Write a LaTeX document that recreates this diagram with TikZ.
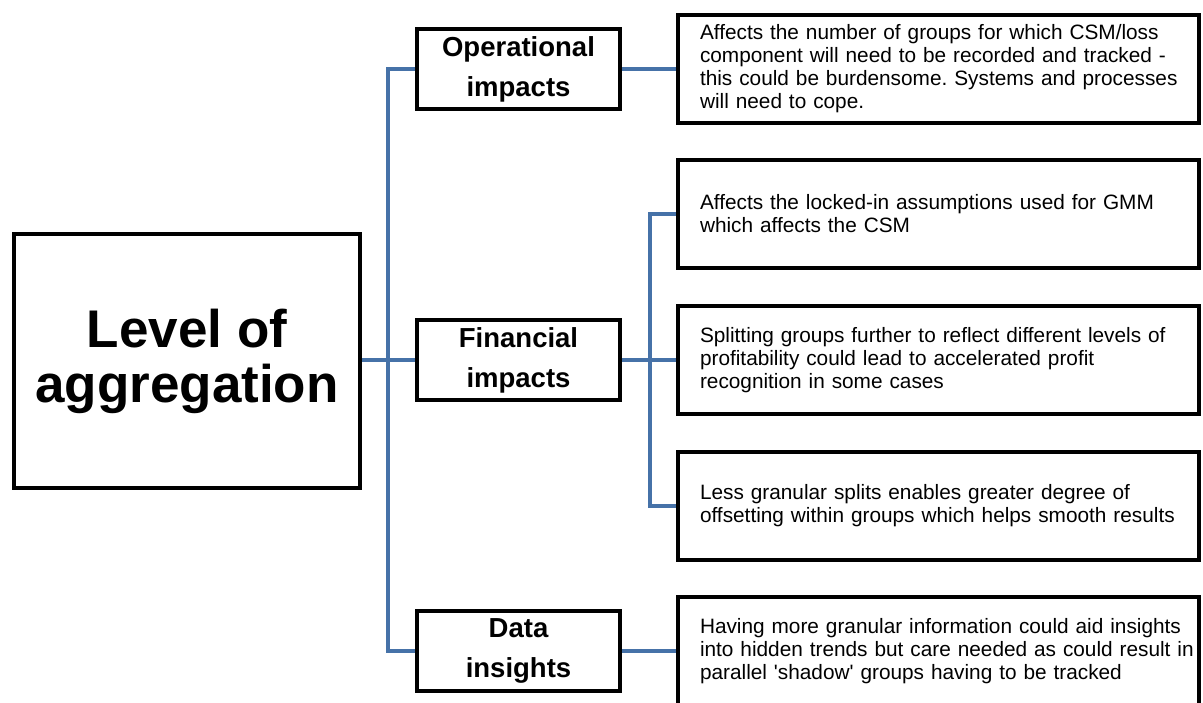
\documentclass[tikz,border=0pt]{standalone}
\usepackage{fontspec}
\setmainfont{Liberation Sans}
\frenchspacing
\usetikzlibrary{positioning,backgrounds}
\definecolor{linkblue}{RGB}{70,114,168}
\tikzstyle{blockbox} = [draw, line width=2pt, rectangle, fill=white, align=center, inner sep=0pt]
\tikzstyle{mainbox} = [blockbox, minimum width=173pt, minimum height=127pt,
    font=\bfseries\fontsize{26.5}{27.5}\selectfont]
\tikzstyle{topicbox} = [blockbox, minimum width=101.5pt, minimum height=40pt,
    font=\bfseries\fontsize{13.75}{20}\selectfont]
\tikzstyle{notebox} = [blockbox, text width=260.5pt, minimum height=54pt, align=left,
    font=\fontsize{10.4}{11.5}\selectfont, execute at begin node={\leftskip=11pt}]
\tikzstyle{link} = [line width=2.4pt, draw=linkblue]

\begin{document}
\begin{tikzpicture}[x=0.5pt,y=-0.5pt]
    \useasboundingbox (0,0) rectangle (1203,702);
    % left block
    \node[mainbox] (level) at (187,361) {Level of\\aggregation};
    % middle column
    \node[topicbox] (oper) at (518.5,69) {Operational\\impacts};
    \node[topicbox] (fin) at (518.5,360) {Financial\\impacts};
    \node[topicbox] (data) at (518.5,651) {Data\\insights};
    % right column
    \node[notebox] (operA) at (938.5,69)
        {Affects the number of groups for which CSM/loss\\
         component will need to be recorded and tracked -\\
         this could be burdensome. Systems and processes\\
         will need to cope.};
    \node[notebox] (finA) at (938.5,214)
        {Affects the locked-in assumptions used for GMM\\
         which affects the CSM};
    \node[notebox] (finB) at (938.5,360)
        {Splitting groups further to reflect different levels of\\
         profitability could lead to accelerated profit\\
         recognition in some cases};
    \node[notebox] (finC) at (938.5,506)
        {Less granular splits enables greater degree of\\
         offsetting within groups which helps smooth results};
    \node[notebox] (dataA) at (938.5,651)
        {Having more granular information could aid insights\\
         into hidden trends but care needed as could result in\\
         parallel \textquotesingle shadow\textquotesingle\ groups having to be tracked};
    % connectors
    \coordinate (trunk) at (388,360);
    \coordinate (fork) at (650,360);
    \begin{pgfonlayer}{background}
        \draw[link] (level.east |- fin.west) -- (fin.west);
        \draw[link] (oper.west) -| (trunk) |- (data.west);
        \draw[link] (oper.east) -- (operA.west);
        \draw[link] (fin.east) -- (finB.west);
        \draw[link] (finA.west) -| (fork) |- (finC.west);
        \draw[link] (data.east) -- (dataA.west);
    \end{pgfonlayer}
\end{tikzpicture}
\end{document}
